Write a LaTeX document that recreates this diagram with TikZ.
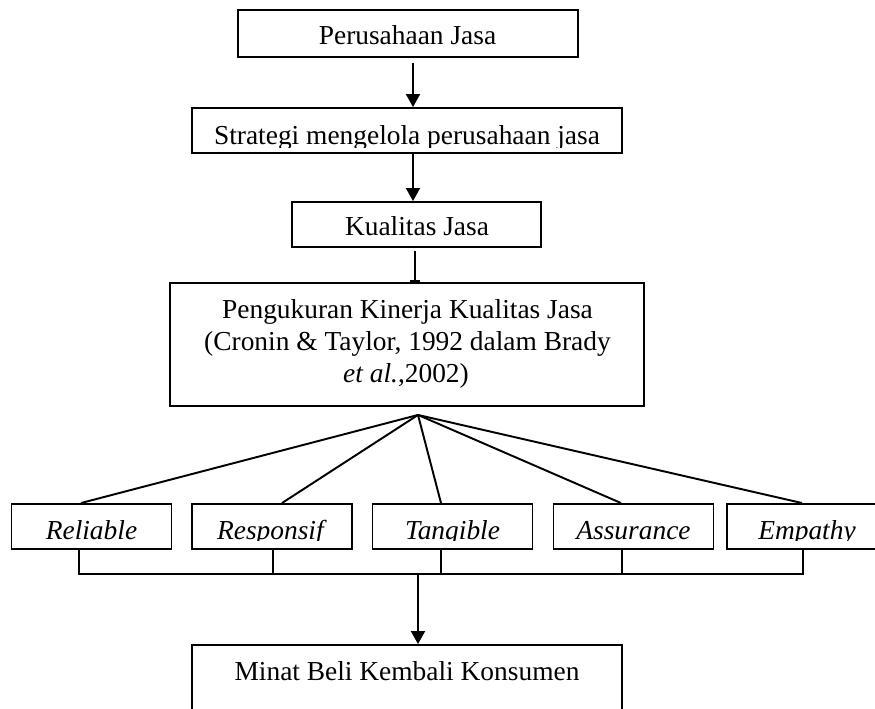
\documentclass[tikz,border=0pt]{standalone}
\usepackage{fontspec}
\setmainfont{Liberation Serif}
\usetikzlibrary{arrows.meta,calc}

\begin{document}
\begin{tikzpicture}[x=0.02cm, y=-0.02cm, line width=1.1pt,
    box/.style={draw, inner sep=0pt, minimum height=0.9cm},
    txt/.style={inner sep=0pt, anchor=base, font=\fontsize{15.6}{18}\selectfont},
    arr/.style={-{Triangle[width=0.28cm,length=0.26cm]}}]
    \useasboundingbox (0,0) rectangle (875,709);
    \clip (0,0) rectangle (875,709);

    % kotak
    \node[box, minimum width=6.8cm, minimum height=0.94cm] (jasa) at (408,33.5) {};
    \node[box, minimum width=8.6cm] (strat) at (407,130.5) {};
    \node[box, minimum width=4.98cm] (kual) at (416.5,224.5) {};
    \node[box, minimum width=9.48cm, minimum height=2.46cm] (ukur) at (407,344.5) {};
    \foreach \n/\x in {rel/91.5, res/272, tan/452.5, ass/633.5, emp/807}
        \node[box, minimum width=3.2cm] (\n) at (\x,526.5) {};
    \node[box, minimum width=8.6cm, minimum height=1.9cm] (minat) at (407,692.5) {};

    % teks
    \node[txt] (t-jasa) at (407.5,45) {Perusahaan Jasa};
    \begin{scope}
        \clip (strat.north west) rectangle ($(strat.south east)+(0,-6)$);
        \node[txt] (t-strat) at (407,144.5) {Strategi mengelola perusahaan jasa};
    \end{scope}
    \node[txt] (t-kual) at (417,236) {Kualitas Jasa};
    \node[txt] (t-ukur1) at (407.5,318) {Pengukuran Kinerja Kualitas Jasa};
    \node[txt] (t-ukur2) at (407.5,350) {(Cronin \& Taylor, 1992 dalam Brady};
    \node[txt] (t-ukur3) at (406,382) {\textit{et al.},2002)};
    \begin{scope}
        \clip (rel.north west) rectangle ($(emp.south east)+(0,-9)$);
        \foreach \n/\lbl in {rel/Reliable, res/Responsif, tan/Tangible, ass/Assurance, emp/Empathy}
            \node[txt] (t-\n) at ($(\n.center)+(0,12.5)$) {\textit{\lbl}};
    \end{scope}
    \node[txt] (t-minat) at (407,680) {Minat Beli Kembali Konsumen};

    % garis
    \draw[arr] ($(jasa.south)+(5,5)$) -- ($(strat.north)+(6,0)$);
    \draw[arr] ($(strat.south)+(6,0)$) -- ($(kual.north)+(-3.5,0)$);
    \draw[-{Bar[width=0.2cm]}] ($(kual.south)+(-1.5,3)$) -- ($(ukur.north)+(8,0)$);
    \coordinate (apex) at ($(ukur.south)+(11,8)$);
    \foreach \n/\dx in {rel/-10.5, res/10, tan/-11.5, ass/-12.5, emp/-5}
        \draw (apex) -- ($(\n.north)+(\dx,0)$);
    \draw ($(rel.south)+(-12.5,0)$) |- ($(emp.south)+(-4,24)$) -- ($(emp.south)+(-4,0)$);
    \foreach \n/\dx in {res/1, tan/-11.5, ass/-11.5}
        \draw ($(\n.south)+(\dx,0)$) -- ++(0,24);
    \coordinate (bus) at ($(tan.south)+(-34.5,24)$);
    \draw[arr] (bus) -- (bus |- minat.north);

\end{tikzpicture}
\end{document}
